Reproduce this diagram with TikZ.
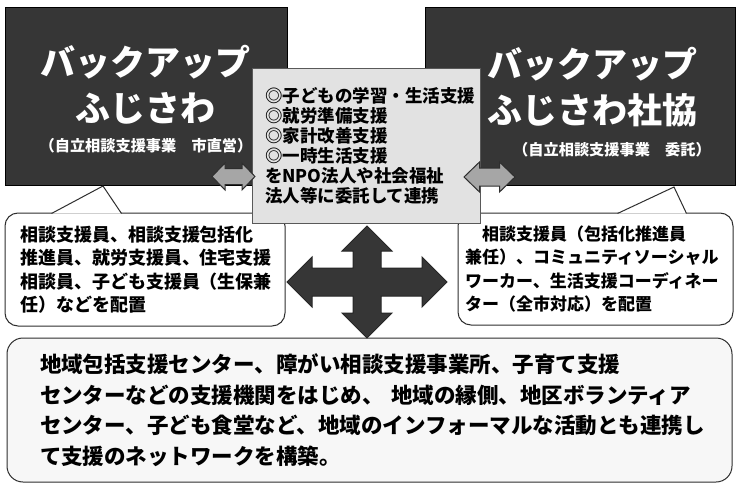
\documentclass[tikz,border=0pt]{standalone}
\usepackage{fontspec}
\setmainfont{Noto Sans CJK JP}
\usepackage{xcolor}
\definecolor{panel}{HTML}{363636}
\definecolor{midgray}{HTML}{E2E2E2}
\definecolor{arrowgray}{HTML}{A6A6A6}
\definecolor{edge}{HTML}{2E2E2E}
\usetikzlibrary{positioning, calc}

\tikzset{
  darkpanel/.style={draw=black, fill=panel, line width=1pt,
    minimum height=178pt, inner sep=0pt},
  titletext/.style={text=white, align=center, inner sep=0pt,
    font=\fontsize{35}{46}\selectfont\bfseries},
  subtext/.style={text=white, inner sep=0pt,
    font=\fontsize{15.2}{16}\selectfont\bfseries},
  callout/.style={draw=edge, fill=white, line width=1pt, rounded corners=13pt,
    align=left, font=\fontsize{18}{23.5}\selectfont\bfseries},
  tipline/.style={draw=edge, fill=white, line width=1pt},
  midbox/.style={draw=gray!70!black, fill=midgray, line width=1pt,
    align=left, font=\fontsize{17.5}{20}\selectfont\bfseries},
  dblarrow/.style={draw=edge, fill=arrowgray, line width=1pt, line join=miter},
  crossarrow/.style={draw=black!85, fill=panel, line width=1pt, line join=miter},
  netbox/.style={draw=edge, fill=white!97!black, line width=1pt, rounded corners=16pt,
    align=left, font=\fontsize{21.5}{30.5}\selectfont\bfseries}
}

\begin{document}
\begin{tikzpicture}[x=1pt, y=-1pt]
  \useasboundingbox[fill=white] (0,0) rectangle (740,490);

  % the two dark panels
  \node[darkpanel, minimum width=282pt] (lback) at (146,96) {};
  \node[darkpanel, minimum width=310pt] (rback) at (580,96) {};
  \node[titletext] (ltitle) at (146,85) {バックアップ\\ふじさわ};
  \node[subtext] (lsub) at (146,146) {（自立相談支援事業　市直営）};
  \node[titletext] (rtitle) at (592,87) {バックアップ\\ふじさわ社協};
  \node[subtext] (rsub) at (612,150) {（自立相談支援事業　委託）};

  % callouts under the panels
  \node[callout, text width=250pt, inner xsep=15pt, minimum height=113pt]
    (lcall) at (145,269.5)
    {相談支援員、相談支援包括化\\推進員、就労支援員、住宅支援\\相談員、子ども支援員（生保兼\\任）などを配置};
  \coordinate (ltip) at (103,186);
  \filldraw[tipline] ($(lcall.north west)+(47,1)$) -- (ltip)
    -- ($(lcall.north west)+(117,1)$);

  \node[callout, text width=261pt, inner xsep=7pt, minimum height=112pt,
    font=\fontsize{17}{23.5}\selectfont\bfseries]
    (rcall) at (595.5,269)
    {　相談支援員（包括化推進員\\兼任）、コミュニティソーシャル\\ワーカー、生活支援コーディネー\\ター（全市対応）を配置};
  \coordinate (rtip) at (674,187);
  \filldraw[tipline] ($(rcall.north west)+(160,1)$) -- (rtip)
    -- ($(rcall.north west)+(229,1)$);

  % middle box
  \node[midbox, text width=202pt, inner xsep=13pt, minimum height=155pt]
    (mid) at (366,145.5)
    {◎子どもの学習・生活支援\\◎就労準備支援\\◎家計改善支援\\◎一時生活支援\\をNPO法人や社会福祉\\法人等に委託して連携};

  % double arrows between panels and middle box
  \begin{scope}[shift={(233.5,176.5)}]
    \draw[dblarrow] (-21.5,0) -- (-8.5,-13.5) -- (-8.5,-8) -- (8.5,-8)
      -- (8.5,-13.5) -- (21.5,0) -- (8.5,13.5) -- (8.5,8) -- (-8.5,8)
      -- (-8.5,13.5) -- cycle;
  \end{scope}
  \begin{scope}[shift={(489.5,177)}]
    \draw[dblarrow] (-25.5,0) -- (-10,-15) -- (-10,-9) -- (10,-9)
      -- (10,-15) -- (25.5,0) -- (10,15) -- (10,9) -- (-10,9)
      -- (-10,15) -- cycle;
  \end{scope}

  % network box
  \node[netbox, text width=659pt, inner xsep=33pt, minimum height=144pt]
    (net) at (369.5,410)
    {地域包括支援センター、障がい相談支援事業所、子育て支援\\センターなどの支援機関をはじめ、 地域の縁側、地区ボランティア\\センター、子ども食堂など、地域のインフォーマルな活動とも連携し\\て支援のネットワークを構築。};

  % four-way arrow
  \begin{scope}[shift={(367,282)}]
    \draw[crossarrow] (-80,0) -- (-55,-25) -- (-55,-14) -- (-14,-14)
      -- (-14,-31) -- (-25,-31) -- (0,-56) -- (25,-31) -- (14,-31)
      -- (14,-14) -- (55,-14) -- (55,-25) -- (80,0) -- (55,25)
      -- (55,14) -- (14,14) -- (14,31) -- (25,31) -- (0,56)
      -- (-25,31) -- (-14,31) -- (-14,14) -- (-55,14) -- (-55,25) -- cycle;
  \end{scope}
\end{tikzpicture}
\end{document}
